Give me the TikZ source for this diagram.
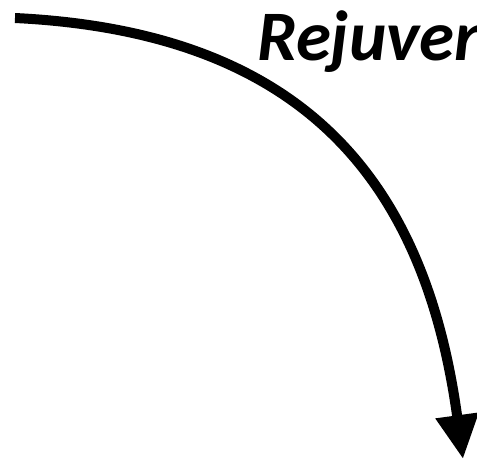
\documentclass[tikz,border=0pt]{standalone}
\usepackage{fontspec}
\setmainfont{Carlito}
\usetikzlibrary{arrows.meta}
\tikzset{
  bigarrow/.style={line width=10pt, draw=black, -{Triangle[length=44pt,width=41pt]}},
  titletext/.style={inner sep=0pt, anchor=base west, font=\fontsize{71pt}{80pt}\selectfont\bfseries\itshape}
}
\begin{document}
\begin{tikzpicture}[x=1pt,y=-1pt]
\useasboundingbox (0,0) rectangle (477,465);
\coordinate (start) at (15,18);
\coordinate (tip) at (463,459);
\draw[bigarrow] (start) .. controls (300,32) and (424.5,176.6) .. (tip);
\node[titletext] (title) at (257,61) {Rejuven};
\end{tikzpicture}
\end{document}
